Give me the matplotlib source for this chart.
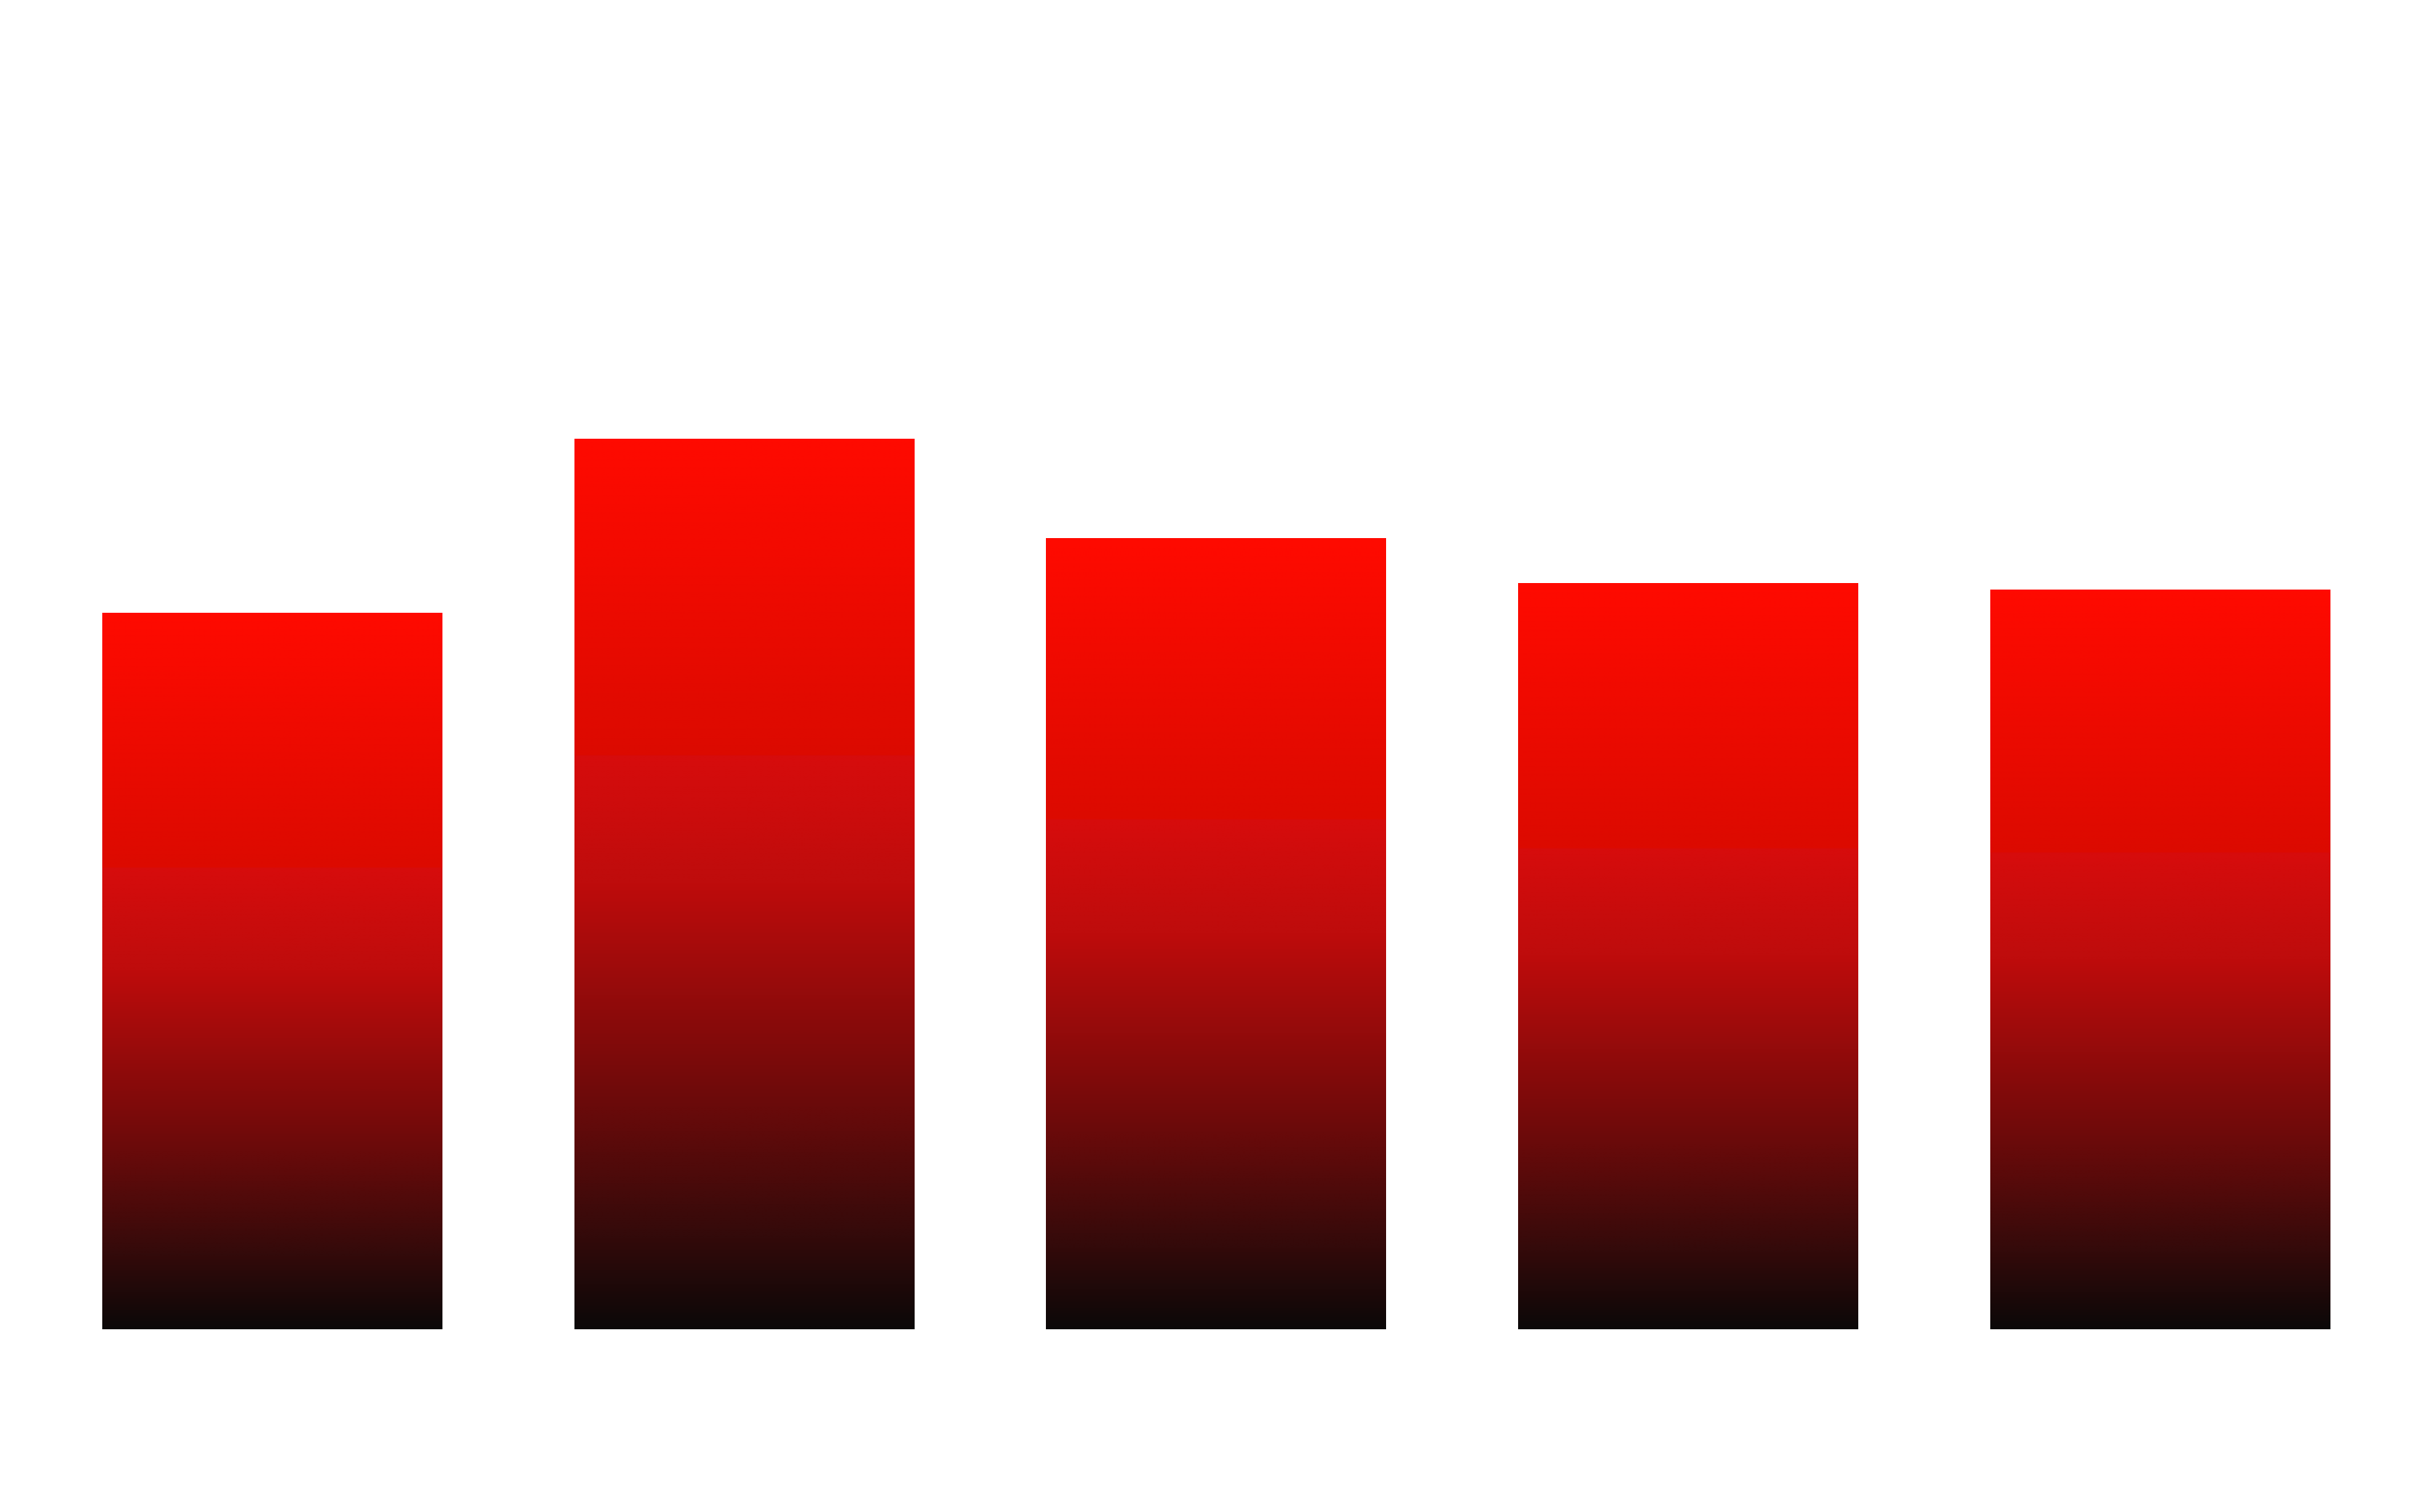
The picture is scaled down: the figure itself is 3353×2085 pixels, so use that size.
import numpy as np
import matplotlib as mpl
mpl.use('agg')
import matplotlib.pyplot as plt
from matplotlib.colors import LinearSegmentedColormap

categories = ['A', 'B', 'C', 'D', 'E']
values = [80.5, 100.0, 88.9, 83.8, 83.1]

# gradient from bright red (top) to near black (bottom), with a small step at ~36%
grad = LinearSegmentedColormap.from_list('redfade', [
    (0.0, (12/255, 8/255, 8/255)),
    (0.1, (50/255, 10/255, 10/255)),
    (0.25, (106/255, 10/255, 10/255)),
    (0.5, (190/255, 12/255, 12/255)),
    (0.645, (215/255, 12/255, 12/255)),
    (0.6451, (220/255, 10/255, 0)),
    (1.0, (255/255, 10/255, 0)),
])

fig = plt.figure(figsize=(33.53, 20.85), dpi=100)
ax = fig.add_axes([0.0149, 0.121, 0.9702, 0.824])
ax.axis('off')

width = 0.72
x = np.arange(len(categories))
bars = ax.bar(x, values, width=width, color='none', edgecolor='none')
ramp = np.linspace(0, 1, 512).reshape(-1, 1)
for b, v in zip(bars, values):
    x0 = b.get_x()
    ax.imshow(ramp, cmap=grad, origin='lower', aspect='auto',
              extent=[x0, x0 + width, 0, v], interpolation='bilinear')
ax.set_xlim(-0.5, len(categories) - 0.5)
ax.set_ylim(0, 140)

fig.savefig('out.png', facecolor='white')
